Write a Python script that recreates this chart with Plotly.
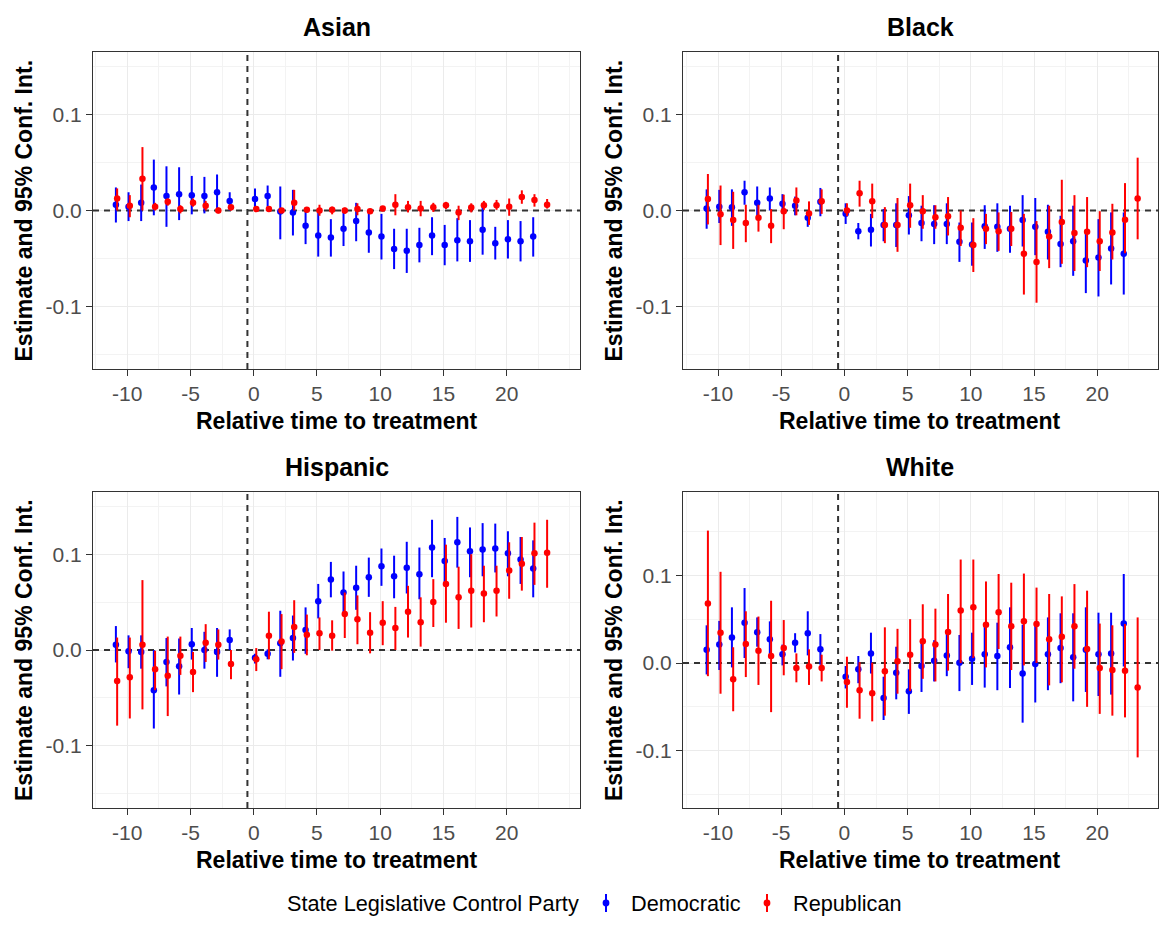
import numpy as np
import plotly.graph_objects as go

# ---------------- data ----------------
periods_dem = [-11, -10, -9, -8, -7, -6, -5, -4, -3, -2,
               0, 1, 2, 3, 4, 5, 6, 7, 8, 9, 10, 11, 12, 13, 14, 15, 16, 17, 18, 19, 20, 21, 22]
periods_rep = [-11, -10, -9, -8, -7, -6, -5, -4, -3, -2,
               0, 1, 2, 3, 4, 5, 6, 7, 8, 9, 10, 11, 12, 13, 14, 15, 16, 17, 18, 19, 20, 21, 22, 23]

panels = ["Asian", "Black", "Hispanic", "White"]
parties = ["Democratic", "Republican"]

# Asian
asian_dem_est = [0.006, 0.004, 0.008, 0.024, 0.015, 0.017, 0.016, 0.015, 0.019, 0.010,
                 0.012, 0.015, -0.001, -0.002, -0.016, -0.026, -0.028, -0.019, -0.011, -0.023, -0.027,
                 -0.040, -0.042, -0.036, -0.026, -0.036, -0.031, -0.032, -0.020, -0.034, -0.030, -0.032, -0.027]
asian_dem_lo = [-0.0125, -0.011, -0.011, -0.005, -0.017, -0.010, -0.004, -0.003, 0.000, 0.000,
                0.000, 0.004, -0.030, -0.026, -0.035, -0.048, -0.048, -0.037, -0.032, -0.044, -0.051,
                -0.061, -0.065, -0.054, -0.0465, -0.057, -0.053, -0.0535, -0.046, -0.051, -0.050, -0.053, -0.048]
asian_dem_hi = [0.024, 0.019, 0.027, 0.053, 0.046, 0.045, 0.036, 0.035, 0.0375, 0.019,
                0.023, 0.026, 0.025, 0.0215, 0.001, 0.000, -0.009, -0.002, 0.008, -0.002, -0.0035,
                -0.019, -0.019, -0.018, -0.007, -0.015, -0.008, -0.010, 0.004, -0.017, -0.010, -0.011, -0.007]
asian_rep_est = [0.0125, 0.005, 0.033, 0.004, 0.009, 0.0015, 0.008, 0.005, 0.000, 0.0035,
                 0.0015, 0.0015, 0.000, 0.008, 0.0007, 0.000, 0.0007, 0.000, 0.0015, -0.0007, 0.002,
                 0.006, 0.0035, 0.002, 0.0035, 0.0055, -0.002, 0.003, 0.0055, 0.0055, 0.004, 0.014, 0.011, 0.006]
asian_rep_lo = [0.000, -0.007, 0.000, 0.000, 0.005, -0.003, 0.004, 0.000, -0.003, 0.000,
                -0.001, -0.0015, -0.002, 0.000, -0.002, -0.0055, -0.004, -0.0035, -0.005, -0.0035, -0.0007,
                -0.005, -0.002, -0.006, -0.0015, 0.0015, -0.010, -0.002, 0.0007, 0.0007, -0.0055, 0.007, 0.004, 0.002]
asian_rep_hi = [0.023, 0.016, 0.066, 0.008, 0.0125, 0.0055, 0.0125, 0.010, 0.003, 0.006,
                0.004, 0.004, 0.002, 0.0215, 0.003, 0.006, 0.004, 0.003, 0.0075, 0.0015, 0.004,
                0.017, 0.010, 0.010, 0.008, 0.009, 0.005, 0.0075, 0.010, 0.011, 0.0125, 0.021, 0.017, 0.012]

# Black
black_dem_est = [0.002, 0.004, 0.0035, 0.019, 0.008, 0.0125, 0.007, 0.005, -0.0075, 0.009,
                 -0.0035, -0.0215, -0.020, -0.015, -0.015, -0.005, -0.013, -0.014, -0.014, -0.0325, -0.0355,
                 -0.0165, -0.017, -0.019, -0.010, -0.017, -0.022, -0.035, -0.032, -0.052, -0.049, -0.0395, -0.045]
black_dem_lo = [-0.019, -0.013, -0.016, 0.006, -0.008, 0.000, -0.0035, -0.005, -0.017, -0.006,
                -0.014, -0.030, -0.0375, -0.032, -0.038, -0.025, -0.032, -0.035, -0.035, -0.0535, -0.0575,
                -0.040, -0.043, -0.044, -0.0375, -0.0465, -0.051, -0.059, -0.068, -0.086, -0.0895, -0.077, -0.0875]
black_dem_hi = [0.022, 0.0215, 0.022, 0.031, 0.025, 0.024, 0.017, 0.0145, -0.002, 0.0235,
                0.0075, -0.013, -0.0035, 0.0015, 0.0075, 0.015, 0.005, 0.0055, 0.0075, -0.0125, -0.0125,
                0.0055, 0.0075, 0.005, 0.016, 0.013, 0.006, -0.0055, 0.005, -0.020, -0.009, -0.002, -0.002]
black_rep_est = [0.012, -0.004, -0.010, -0.013, -0.0075, -0.016, -0.0007, 0.0105, -0.003, 0.0095,
                 0.000, 0.018, 0.0095, -0.015, -0.015, 0.0055, -0.0007, -0.007, -0.006, -0.018, -0.036,
                 -0.019, -0.0215, -0.019, -0.045, -0.0535, -0.027, -0.012, -0.0235, -0.022, -0.032, -0.023, -0.0095, 0.0125]
black_rep_lo = [-0.0145, -0.036, -0.040, -0.033, -0.022, -0.034, -0.0195, -0.005, -0.015, -0.0035,
                -0.006, 0.004, -0.008, -0.034, -0.043, -0.018, -0.019, -0.019, -0.026, -0.037, -0.064,
                -0.035, -0.042, -0.037, -0.0875, -0.096, -0.060, -0.0555, -0.063, -0.059, -0.063, -0.051, -0.0445, -0.030]
black_rep_hi = [0.038, 0.026, 0.0195, 0.006, 0.006, 0.0015, 0.0165, 0.024, 0.0095, 0.022,
                0.0075, 0.031, 0.028, 0.0035, 0.013, 0.028, 0.016, 0.0055, 0.014, 0.000, -0.008,
                -0.0035, -0.002, -0.0015, -0.0035, -0.011, 0.005, 0.032, 0.016, 0.014, -0.0007, 0.007, 0.0285, 0.055]

# Hispanic
hisp_dem_est = [0.0055, -0.0014, -0.002, -0.042, -0.0125, -0.017, 0.006, 0.000, -0.002, 0.0105,
                -0.008, -0.004, 0.007, 0.0125, 0.021, 0.051, 0.0735, 0.060, 0.065, 0.076, 0.0875,
                0.077, 0.086, 0.079, 0.107, 0.093, 0.1125, 0.103, 0.105, 0.106, 0.101, 0.0945, 0.085]
hisp_dem_lo = [-0.013, -0.019, -0.0195, -0.082, -0.038, -0.0465, -0.010, -0.0195, -0.028, 0.000,
               -0.014, -0.0097, -0.028, -0.011, -0.004, 0.033, 0.055, 0.039, 0.042, 0.0555, 0.067,
               0.054, 0.059, 0.053, 0.076, 0.069, 0.086, 0.076, 0.077, 0.081, 0.077, 0.069, 0.055]
hisp_dem_hi = [0.025, 0.0153, 0.0153, 0.000, 0.0125, 0.012, 0.023, 0.019, 0.023, 0.0215,
               -0.004, 0.0007, 0.041, 0.036, 0.0445, 0.069, 0.092, 0.082, 0.088, 0.0965, 0.106,
               0.0985, 0.113, 0.107, 0.136, 0.117, 0.139, 0.128, 0.1325, 0.132, 0.124, 0.118, 0.1145]
hisp_rep_est = [-0.0325, -0.0285, 0.0055, -0.020, -0.027, -0.006, -0.023, 0.0075, 0.0055, -0.0145,
                -0.0097, 0.015, 0.009, 0.024, 0.016, 0.0175, 0.015, 0.0375, 0.032, 0.018, 0.0285,
                0.023, 0.040, 0.029, 0.050, 0.069, 0.055, 0.062, 0.059, 0.062, 0.083, 0.090, 0.101, 0.1015]
hisp_rep_lo = [-0.079, -0.0715, -0.062, -0.042, -0.069, -0.026, -0.044, -0.0125, -0.010, -0.0305,
               -0.022, -0.0097, -0.020, -0.003, -0.0055, 0.000, -0.0007, 0.0125, 0.006, -0.0035, 0.005,
               0.000, 0.013, 0.0035, 0.024, 0.0285, 0.022, 0.0235, 0.029, 0.035, 0.0535, 0.062, 0.068, 0.065]
hisp_rep_hi = [0.013, 0.013, 0.073, -0.0007, 0.014, 0.014, -0.002, 0.027, 0.0215, 0.000,
               0.002, 0.040, 0.0375, 0.052, 0.037, 0.034, 0.031, 0.060, 0.057, 0.0395, 0.051,
               0.045, 0.067, 0.055, 0.074, 0.110, 0.087, 0.100, 0.088, 0.088, 0.1125, 0.118, 0.133, 0.136]

# White
white_dem_est = [0.015, 0.021, 0.029, 0.046, 0.035, 0.027, 0.010, 0.023, 0.034, 0.0156,
                 -0.0156, -0.0072, 0.011, -0.040, -0.011, -0.0323, -0.0034, 0.0027, 0.0087, 0.0004, 0.005,
                 0.010, 0.008, 0.018, -0.012, -0.001, 0.010, 0.017, 0.0065, 0.015, 0.010, 0.011, 0.045]
white_dem_lo = [-0.013, -0.008, -0.005, 0.0057, 0.0186, 0.010, -0.0027, 0.012, 0.0087, -0.002,
                -0.029, -0.023, -0.012, -0.065, -0.0414, -0.058, -0.033, -0.021, -0.015, -0.032, -0.025,
                -0.028, -0.031, -0.0285, -0.068, -0.045, -0.031, -0.023, -0.0437, -0.033, -0.0376, -0.036, -0.004]
white_dem_hi = [0.043, 0.048, 0.0635, 0.0855, 0.052, 0.0475, 0.021, 0.034, 0.059, 0.033,
                -0.0034, 0.008, 0.0346, -0.0156, 0.0186, -0.0072, 0.027, 0.026, 0.033, 0.032, 0.0346,
                0.043, 0.046, 0.0635, 0.0437, 0.043, 0.052, 0.0567, 0.0567, 0.0635, 0.0574, 0.0574, 0.1015]
white_rep_est = [0.068, 0.0346, -0.0186, 0.0217, 0.014, 0.008, 0.017, -0.0057, -0.004, -0.0057,
                 -0.0217, -0.031, -0.0346, -0.0095, 0.002, 0.0095, 0.0247, 0.021, 0.0354, 0.060, 0.0635,
                 0.0437, 0.058, 0.042, 0.0475, 0.0445, 0.027, 0.030, 0.042, 0.016, -0.0057, -0.008, -0.0087, -0.028]
white_rep_lo = [-0.015, -0.035, -0.055, -0.016, -0.025, -0.056, -0.014, -0.022, -0.025, -0.021,
                -0.051, -0.0635, -0.0665, -0.060, -0.035, -0.032, -0.018, -0.021, -0.0087, 0.000, 0.0057,
                -0.005, 0.016, -0.008, -0.0027, 0.000, -0.0255, -0.022, -0.0065, -0.050, -0.058, -0.060, -0.062, -0.1076]
white_rep_hi = [0.151, 0.104, 0.018, 0.059, 0.053, 0.071, 0.049, 0.011, 0.0156, 0.0095,
                0.0072, 0.001, 0.0004, 0.0407, 0.039, 0.050, 0.067, 0.062, 0.0787, 0.118, 0.118,
                0.093, 0.1015, 0.0916, 0.102, 0.086, 0.0787, 0.076, 0.090, 0.0825, 0.045, 0.043, 0.0445, 0.052]

x_tickvals = [-10, -5, 0, 5, 10, 15, 20]
x_ticktext = ["-10", "-5", "0", "5", "10", "15", "20"]
y_tickvals = [-0.1, 0.0, 0.1]
y_ticktext = ["-0.1", "0.0", "0.1"]

treatment_line = -0.5
zero_line = 0.0
legend_title = "State Legislative Control Party"
x_title = "Relative time to treatment"
y_title = "Estimate and 95% Conf. Int."

data = {
    "Asian": [(asian_dem_est, asian_dem_lo, asian_dem_hi), (asian_rep_est, asian_rep_lo, asian_rep_hi)],
    "Black": [(black_dem_est, black_dem_lo, black_dem_hi), (black_rep_est, black_rep_lo, black_rep_hi)],
    "Hispanic": [(hisp_dem_est, hisp_dem_lo, hisp_dem_hi), (hisp_rep_est, hisp_rep_lo, hisp_rep_hi)],
    "White": [(white_dem_est, white_dem_lo, white_dem_hi), (white_rep_est, white_rep_lo, white_rep_hi)],
}

# ---------------- styling / layout ----------------
OFF = 8  # page body margin (all sides)
W, H = 1167 - 2 * OFF, 925 - 2 * OFF
FONT = "Liberation Sans, Arial, Helvetica, sans-serif"
colors = {"Democratic": "#0000FF", "Republican": "#FF0000"}
dodge = {"Democratic": 0.1, "Republican": 0.2}
periods = {"Democratic": periods_dem, "Republican": periods_rep}

# pixel boxes in the screenshot: (left, right, top, bottom)
boxes = {
    "Asian": (93, 580, 52, 369),
    "Black": (683, 1158, 52, 369),
    "Hispanic": (93, 580, 492, 808),
    "White": (683, 1158, 492, 808),
}
xranges = {"Asian": [-12.71, 25.8], "Black": [-12.77, 24.81],
           "Hispanic": [-12.71, 25.8], "White": [-12.77, 24.81]}
yranges = {"Asian": [-0.165, 0.165], "Black": [-0.165, 0.165],
           "Hispanic": [-0.165, 0.165], "White": [-0.1653, 0.195]}


def px(v):
    return (v - OFF) / W


def py(v):
    return 1 - (v - OFF) / H


fig = go.Figure()
layout = dict(
    width=W, height=H,
    margin=dict(l=0, r=0, t=0, b=0),
    paper_bgcolor="white", plot_bgcolor="white",
    font=dict(family=FONT, color="black"),
    showlegend=False,
)
annotations = []
shapes = []

for i, panel in enumerate(panels):
    n = i + 1
    xa = "x" if n == 1 else f"x{n}"
    ya = "y" if n == 1 else f"y{n}"
    l, r, t, b = boxes[panel]
    axis_common = dict(showline=True, linecolor="#333333", linewidth=1, mirror=True,
                       ticks="outside", ticklen=6, tickwidth=1, tickcolor="#333333",
                       showgrid=True, gridcolor="#EBEBEB", gridwidth=1.3, zeroline=False,
                       tickfont=dict(size=21, color="#4D4D4D", family=FONT))
    layout[f"xaxis{'' if n == 1 else n}"] = dict(
        domain=[px(l), px(r)], anchor=ya, range=xranges[panel],
        tickvals=x_tickvals, ticktext=x_ticktext,
        minor=dict(dtick=2.5, tick0=0, showgrid=True, gridcolor="#F3F3F3", gridwidth=0.8, ticks=""),
        **axis_common)
    layout[f"yaxis{'' if n == 1 else n}"] = dict(
        domain=[py(b), py(t)], anchor=xa, range=yranges[panel],
        tickvals=y_tickvals, ticktext=y_ticktext,
        minor=dict(dtick=0.05, tick0=0, showgrid=True, gridcolor="#F3F3F3", gridwidth=0.8, ticks=""),
        **axis_common)

    # reference lines (drawn first so the estimates sit on top)
    ref_line = dict(color="#333333", width=2, dash="6px,5px")
    fig.add_trace(go.Scatter(x=xranges[panel], y=[zero_line, zero_line], mode="lines", line=ref_line,
                             xaxis=xa, yaxis=ya, showlegend=False, hoverinfo="skip"))
    fig.add_trace(go.Scatter(x=[treatment_line, treatment_line], y=yranges[panel], mode="lines", line=ref_line,
                             xaxis=xa, yaxis=ya, showlegend=False, hoverinfo="skip"))

    for j, party in enumerate(parties):
        est, lo, hi = (np.array(a) for a in data[panel][j])
        xs = np.array(periods[party]) + dodge[party]
        fig.add_trace(go.Scatter(
            x=xs, y=est, mode="markers", name=party, legendgroup=party,
            showlegend=False, xaxis=xa, yaxis=ya,
            marker=dict(color=colors[party], size=6.5),
            error_y=dict(type="data", symmetric=False, array=hi - est, arrayminus=est - lo,
                         color=colors[party], thickness=2, width=0),
        ))

    # panel title
    annotations.append(dict(text=f"<b>{panel}</b>", x=px((l + r) / 2), y=py(t - 25), xref="paper", yref="paper",
                            xanchor="center", yanchor="middle", showarrow=False,
                            font=dict(size=25, color="black", family=FONT)))
    # x title
    annotations.append(dict(text=f"<b>{x_title}</b>", x=px((l + r) / 2), y=py(b + 52), xref="paper", yref="paper",
                            xanchor="center", yanchor="middle", showarrow=False,
                            font=dict(size=23, color="black", family=FONT)))
    # y title
    annotations.append(dict(text=f"<b>{y_title}</b>", x=px(l - 69), y=py((t + b) / 2), xref="paper", yref="paper",
                            xanchor="center", yanchor="middle", showarrow=False, textangle=-90,
                            font=dict(size=23, color="black", family=FONT)))

# ---- legend (ggplot-style keys: vertical line with a dot), kept inside the figure ----
LEG_Y = 903
leg_font = dict(size=21.7, color="black", family=FONT)
annotations.append(dict(text=legend_title, x=px(287), y=py(LEG_Y), xref="paper", yref="paper",
                        xanchor="left", yanchor="middle", showarrow=False, borderpad=0, borderwidth=0,
                        font=leg_font))
key_x = {"Democratic": 606, "Republican": 767}
label_x = {"Democratic": 631, "Republican": 793}
for party in parties:
    kx = key_x[party]
    shapes.append(dict(type="line", xref="paper", yref="paper", x0=px(kx), x1=px(kx),
                       y0=py(LEG_Y + 9), y1=py(LEG_Y - 9), line=dict(color=colors[party], width=2)))
    shapes.append(dict(type="circle", xref="paper", yref="paper", xsizemode="pixel", ysizemode="pixel",
                       xanchor=px(kx), yanchor=py(LEG_Y), x0=-3.4, x1=3.4, y0=-3.4, y1=3.4,
                       fillcolor=colors[party], line=dict(color=colors[party], width=0)))
    annotations.append(dict(text=party, x=px(label_x[party]), y=py(LEG_Y), xref="paper", yref="paper",
                            xanchor="left", yanchor="middle", showarrow=False, borderpad=0, borderwidth=0,
                            font=leg_font))

layout["annotations"] = annotations
layout["shapes"] = shapes
fig.update_layout(**layout)
fig.write_html("out.html")
